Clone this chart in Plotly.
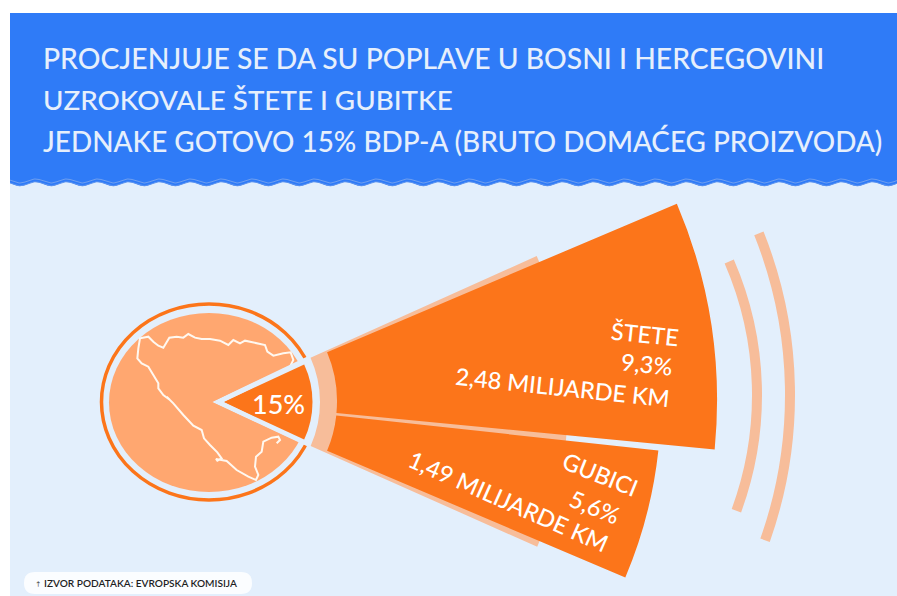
import math
import numpy as np
import plotly.graph_objects as go

W, H = 897, 596

# ---- data ----
title_lines = ["PROCJENJUJE SE DA SU POPLAVE U BOSNI I HERCEGOVINI",
               "UZROKOVALE ŠTETE I GUBITKE",
               "JEDNAKE GOTOVO 15% BDP-A (BRUTO DOMAĆEG PROIZVODA)"]
categories = ["ŠTETE", "GUBICI"]
shares = [9.3, 5.6]
amounts = ["2,48", "1,49"]
total_share = 15
source_text = "IZVOR PODATAKA: EVROPSKA KOMISIJA"

# angular spans (degrees) and radial extents (px) of the wedges as drawn
stete_span = (-5.5, 23.0)
gubici_span = (-23.0, -6.2)
stete_r = (125, 505)
gubici_r = (125, 449)
band_span = (-24.0, 24.2)
band_r = (108, 356)
gap_span = (-25.0, 25.5)
gap_r = (0, 112)
slice_span = (-25.0, 25.0)
slice_r = (0, 89)
arc1_span = (-20.2, 23.5)
arc1_r = (330, 340)
arc2_span = (-19.5, 21.8)
arc2_r = (430, 440)

# outline of the country (px)
outline_top = [(25, 70), (30, 40), (55, 35), (70, 50), (85, 62), (100, 68), (118, 38), (140, 35),
               (160, 38), (175, 27), (195, 38), (215, 42), (240, 42), (270, 47), (295, 60),
               (310, 45), (330, 55), (345, 47), (380, 55), (405, 60), (412, 80), (430, 92),
               (460, 85), (482, 82), (490, 105), (480, 125)]
outline_left = [(25, 70), (22, 100), (35, 115), (55, 125), (70, 150), (85, 175), (85, 190),
                (100, 210), (120, 225)]
outline_low = [(110, 5), (130, 25), (160, 60), (190, 92), (215, 105), (222, 130), (240, 150),
               (262, 172), (275, 190), (262, 197), (258, 192), (290, 198), (320, 225),
               (355, 245), (378, 255), (385, 240), (375, 215), (378, 185), (395, 170),
               (400, 140), (425, 128), (445, 125), (450, 135), (440, 145)]

map_x = [130 + p[0] / 3 for p in outline_top[::-1]] + [130 + p[0] / 3 for p in outline_left[1:]] + \
        [130 + p[0] / 3 for p in outline_low]
map_y = [325 + p[1] / 3 for p in outline_top[::-1]] + [325 + p[1] / 3 for p in outline_left[1:]] + \
        [395 + p[1] / 3 for p in outline_low]

# ---- colours ----
BLUE = "#2f7bf7"
BG = "#e3effc"
ORANGE = "#fc751a"
PALE = "#f7bd9a"
SOFT = "#ffa770"
TXT = "#e6effc"
FONT = "Lato"


def polar_layout(cx, cy, radius, sector):
    """Polar subplot whose origin lands on pixel (cx, cy), with `radius` px of radial range."""
    lo, hi = sector
    top = cy - radius * math.sin(math.radians(hi))
    bot = cy - radius * math.sin(math.radians(lo))
    return dict(
        domain=dict(x=[cx / W, (cx + radius) / W], y=[1 - bot / H, 1 - top / H]),
        sector=[lo, hi], bgcolor="rgba(0,0,0,0)", barmode="overlay", hole=0,
        radialaxis=dict(visible=False, range=[0, radius]),
        angularaxis=dict(visible=False, direction="counterclockwise", rotation=0, thetaunit="degrees"),
    )


def wedge(span, radial, color, subplot):
    return go.Barpolar(theta=[(span[0] + span[1]) / 2], width=[span[1] - span[0]],
                       base=[radial[0]], r=[radial[1] - radial[0]],
                       marker=dict(color=color, line=dict(width=0)),
                       subplot=subplot, showlegend=False, hoverinfo="skip")


fig = go.Figure()

# wave edge of the header
wave_x = np.arange(10, W + 1, 1.0)
wave_y = 183 + 2.0 * np.cos((wave_x - 20) * 2 * np.pi / 31)
fig.add_trace(go.Scatter(x=wave_x, y=wave_y - 2.0, mode="lines", line=dict(color="#6f9fef", width=1.0),
                         showlegend=False, hoverinfo="skip", xaxis="x", yaxis="y"))
fig.add_trace(go.Scatter(x=wave_x, y=wave_y + 0.8, mode="lines", line=dict(color="#5c93ef", width=1.0),
                         showlegend=False, hoverinfo="skip", xaxis="x", yaxis="y"))

# country outline
fig.add_trace(go.Scatter(x=map_x, y=map_y, mode="lines", line=dict(color="#fff8f0", width=2),
                         showlegend=False, hoverinfo="skip", xaxis="x", yaxis="y"))

# wedges
fig.add_trace(wedge(gap_span, gap_r, BG, "polar"))
fig.add_trace(wedge(band_span, band_r, PALE, "polar"))
fig.add_trace(wedge(gubici_span, gubici_r, ORANGE, "polar"))
fig.add_trace(wedge(stete_span, stete_r, ORANGE, "polar2"))
fig.add_trace(wedge(slice_span, slice_r, ORANGE, "polar3"))
fig.add_trace(wedge(arc1_span, arc1_r, PALE, "polar4"))
fig.add_trace(wedge(arc2_span, arc2_r, PALE, "polar5"))

# shapes
wave_path = "M10,190 L" + " L".join(f"{x:.0f},{y + 1.0:.2f}" for x, y in zip(wave_x, wave_y)) + f" L{W},190 Z"
shapes = [
    dict(type="rect", xref="x", yref="y", x0=10, x1=W, y0=13, y1=190, fillcolor=BLUE, line_width=0, layer="below"),
    dict(type="rect", xref="x", yref="y", x0=10, x1=W, y0=187, y1=H, fillcolor=BG, line_width=0, layer="below"),
    dict(type="path", xref="x", yref="y", path=wave_path, fillcolor=BG, line_width=0, layer="below"),
    dict(type="circle", xref="x", yref="y", x0=101.5, x1=316.5, y0=304, y1=500, fillcolor="rgba(0,0,0,0)",
         line=dict(color=ORANGE, width=3.5), layer="below"),
    dict(type="circle", xref="x", yref="y", x0=109, x1=309, y0=313, y1=492, fillcolor=SOFT, line_width=0, layer="below"),
    dict(type="path", xref="x", yref="y",
         path="M35,572 L241,572 Q252,572 252,583 Q252,594 241,594 L35,594 Q24,594 24,583 Q24,572 35,572 Z",
         fillcolor="#fbfdff", line_width=0, layer="below"),
]

# texts
def note(text, x, y, size, color="white", angle=0, xanchor="center", font=FONT, weight=500):
    return dict(text=text, x=x, y=y, xref="x", yref="y", showarrow=False, textangle=angle,
                xanchor=xanchor, yanchor="middle", font=dict(family=font, size=size, color=color, weight=weight))


def pct(v):
    return f"{v}%".replace(".", ",")


annotations = [
    note(title_lines[0], 41, 58, 28.3, TXT, xanchor="left"),
    note(title_lines[1], 41, 99, 27.8, TXT, xanchor="left"),
    note(title_lines[2], 41, 141, 27.9, TXT, xanchor="left"),
    note(categories[0], 645, 334, 23.5, angle=6),
    note(pct(shares[0]), 647, 364, 23.5, angle=6),
    note(f"{amounts[0]} MILIJARDE KM", 562, 387, 23.5, angle=6),
    note(categories[1], 600, 474, 23.5, angle=22),
    note(pct(shares[1]), 595, 507, 23.5, angle=22),
    note(f"{amounts[1]} MILIJARDE KM", 508, 501, 23.5, angle=23.8),
    note(f"{total_share}%", 278, 403, 27),
    note("↑", 38, 583, 6, "#333333"),
    note(source_text, 42, 583, 10.1, "#1f1f1f", xanchor="left", weight=600),
]

fig.update_layout(
    width=W, height=H,
    margin=dict(l=0, r=0, t=0, b=0),
    paper_bgcolor="white", plot_bgcolor="rgba(0,0,0,0)",
    xaxis=dict(range=[0, W], visible=False, fixedrange=True, domain=[0, 1]),
    yaxis=dict(range=[H, 0], visible=False, fixedrange=True, domain=[0, 1]),
    polar=polar_layout(212, 402, 452, (-25.2, 26)),
    polar2=polar_layout(212, 401, 510, (-6, 24)),
    polar3=polar_layout(223.5, 402, 90, (-26, 26)),
    polar4=polar_layout(422, 395, 342, (-21, 24)),
    polar5=polar_layout(355, 395, 442, (-20, 22.5)),
    shapes=shapes, annotations=annotations, showlegend=False,
)

fig.write_html("out.html", config=dict(displayModeBar=False),
               post_script="document.body.style.margin='0';document.documentElement.style.overflow='hidden';")
